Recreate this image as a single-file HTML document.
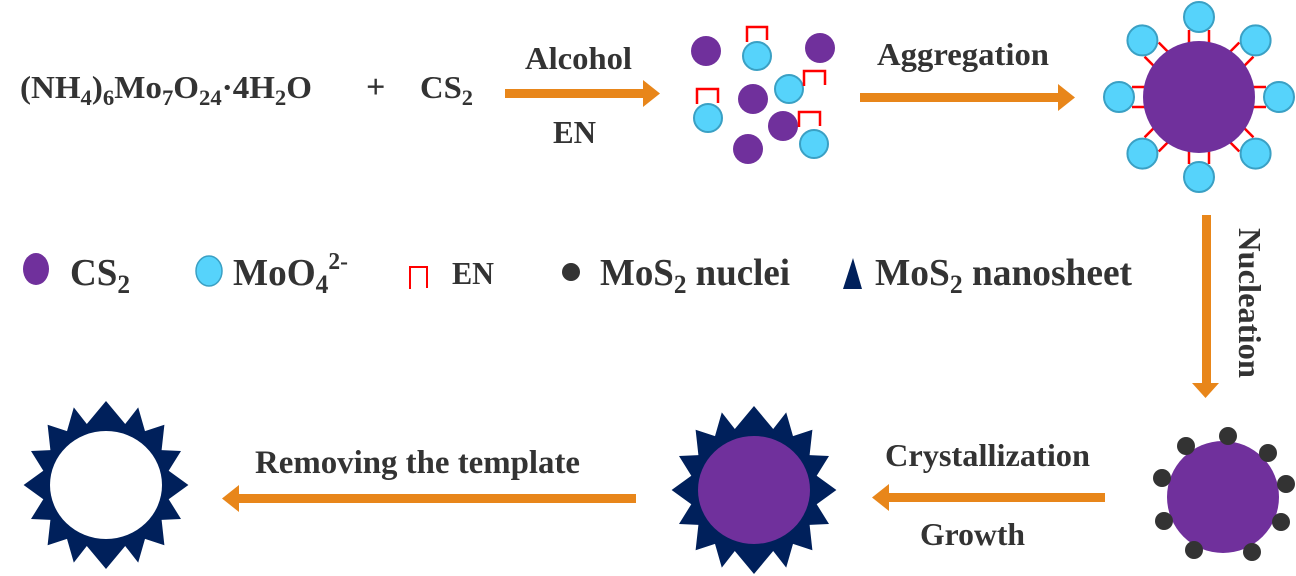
<!DOCTYPE html>
<html><head><meta charset="utf-8"><style>
html,body{margin:0;padding:0;background:#fff;}
svg{display:block;}
text{font-family:"Liberation Serif",serif;font-weight:bold;fill:#333;}
</style></head><body>
<svg width="1296" height="576" viewBox="0 0 1296 576" xmlns="http://www.w3.org/2000/svg">
<defs>
<g id="star">
<polygon fill="#00205B" points="0,-84 19.2,-61 32.2,-77.6 39,-53.9 58.4,-60.3 55.6,-34.9 75,-34 62.7,-14.2 82.4,0 62.7,14.2 75,34 55.6,34.9 58.4,60.3 39,53.9 32.2,77.6 19.2,61 0,84 -19.2,61 -32.2,77.6 -39,53.9 -58.4,60.3 -55.6,34.9 -75,34 -62.7,14.2 -82.4,0 -62.7,-14.2 -75,-34 -55.6,-34.9 -58.4,-60.3 -39,-53.9 -32.2,-77.6 -19.2,-61"/>
</g>
<g id="arm">
<polyline points="-10,-67 -10,-51 10,-51 10,-67" fill="none" stroke="#f00" stroke-width="2.5"/>
<circle cx="0" cy="-80" r="15" fill="#56D3FB" stroke="#3AA0C4" stroke-width="2"/>
</g>
</defs>

<text x="20" y="98" font-size="32" textLength="292" lengthAdjust="spacingAndGlyphs">(NH<tspan font-size="22" dy="7">4</tspan><tspan dy="-7">)</tspan><tspan font-size="22" dy="7">6</tspan><tspan dy="-7">Mo</tspan><tspan font-size="22" dy="7">7</tspan><tspan dy="-7">O</tspan><tspan font-size="22" dy="7">24</tspan><tspan dy="-7">·4H</tspan><tspan font-size="22" dy="7">2</tspan><tspan dy="-7">O</tspan></text>
<text x="366" y="98" font-size="34">+</text>
<text x="420" y="98" font-size="32" textLength="53" lengthAdjust="spacingAndGlyphs">CS<tspan font-size="22" dy="7">2</tspan></text>

<rect x="505" y="89" width="140" height="9" fill="#E8861A"/>
<polygon points="643,80 660,93.5 643,107" fill="#E8861A"/>
<text x="525" y="69" font-size="32" textLength="107" lengthAdjust="spacingAndGlyphs">Alcohol</text>
<text x="553" y="143" font-size="32" textLength="43" lengthAdjust="spacingAndGlyphs">EN</text>

<g fill="#70309C">
<circle cx="706" cy="51" r="15"/><circle cx="820" cy="48" r="15"/><circle cx="753" cy="99" r="15"/><circle cx="783" cy="126" r="15"/><circle cx="748" cy="149" r="15"/>
</g>
<g fill="#56D3FB" stroke="#3AA0C4" stroke-width="2">
<circle cx="757" cy="56" r="14"/><circle cx="789" cy="89" r="14"/><circle cx="708" cy="118" r="14"/><circle cx="814" cy="144" r="14"/>
</g>
<g fill="none" stroke="#f00" stroke-width="2.5">
<polyline points="747,42 747,27 767,27 767,40"/>
<polyline points="804,86 804,71 825,71 825,85"/>
<polyline points="697,104 697,89 718,89 718,103"/>
<polyline points="799,127 799,112 820,112 820,126"/>
</g>

<rect x="860" y="93" width="200" height="9" fill="#E8861A"/>
<polygon points="1058,84 1075,97.5 1058,111" fill="#E8861A"/>
<text x="877" y="65" font-size="32" textLength="172" lengthAdjust="spacingAndGlyphs">Aggregation</text>

<g transform="translate(1199,97)">
<use href="#arm" transform="rotate(0)"/>
<use href="#arm" transform="rotate(45)"/>
<use href="#arm" transform="rotate(90)"/>
<use href="#arm" transform="rotate(135)"/>
<use href="#arm" transform="rotate(180)"/>
<use href="#arm" transform="rotate(225)"/>
<use href="#arm" transform="rotate(270)"/>
<use href="#arm" transform="rotate(315)"/>
<circle cx="0" cy="0" r="56" fill="#70309C"/>
</g>

<rect x="1202" y="215" width="9" height="170" fill="#E8861A"/>
<polygon points="1192,383 1219,383 1205.5,398" fill="#E8861A"/>
<text transform="translate(1239,228) rotate(90)" font-size="32" textLength="150" lengthAdjust="spacingAndGlyphs">Nucleation</text>

<ellipse cx="36" cy="269" rx="13" ry="16" fill="#70309C"/>
<text x="70" y="285" font-size="38" textLength="60" lengthAdjust="spacingAndGlyphs">CS<tspan font-size="26" dy="8">2</tspan></text>
<ellipse cx="209" cy="271" rx="13" ry="15" fill="#56D3FB" stroke="#3AA0C4" stroke-width="1.5"/>
<text x="233" y="285" font-size="38" textLength="115" lengthAdjust="spacingAndGlyphs">MoO<tspan font-size="26" dy="8">4</tspan><tspan font-size="24" dy="-24">2-</tspan></text>
<polyline points="410,289 410,267 427,267 427,288" fill="none" stroke="#f00" stroke-width="2"/>
<text x="452" y="284" font-size="32" textLength="42" lengthAdjust="spacingAndGlyphs">EN</text>
<circle cx="571" cy="272" r="9" fill="#333"/>
<text x="600" y="285" font-size="38" textLength="190" lengthAdjust="spacingAndGlyphs">MoS<tspan font-size="26" dy="8">2</tspan><tspan dy="-8"> nuclei</tspan></text>
<polygon points="853,258 862,289 843,289" fill="#00205B"/>
<text x="875" y="285" font-size="38" textLength="257" lengthAdjust="spacingAndGlyphs">MoS<tspan font-size="26" dy="8">2</tspan><tspan dy="-8"> nanosheet</tspan></text>

<circle cx="1223" cy="497" r="56" fill="#70309C"/>
<g fill="#333">
<circle cx="1228" cy="436" r="9"/><circle cx="1186" cy="446" r="9"/><circle cx="1268" cy="453" r="9"/><circle cx="1162" cy="478" r="9"/><circle cx="1286" cy="484" r="9"/><circle cx="1164" cy="521" r="9"/><circle cx="1281" cy="522" r="9"/><circle cx="1194" cy="550" r="9"/><circle cx="1252" cy="552" r="9"/>
</g>

<rect x="887" y="493" width="218" height="9" fill="#E8861A"/>
<polygon points="889,484 872,497.5 889,511" fill="#E8861A"/>
<text x="885" y="466" font-size="32" textLength="205" lengthAdjust="spacingAndGlyphs">Crystallization</text>
<text x="920" y="545" font-size="32" textLength="105" lengthAdjust="spacingAndGlyphs">Growth</text>

<use href="#star" transform="translate(754,490)"/>
<ellipse cx="754" cy="490" rx="56" ry="54" fill="#70309C"/>

<rect x="237" y="494" width="399" height="9" fill="#E8861A"/>
<polygon points="239,485 222,498.5 239,512" fill="#E8861A"/>
<text x="255" y="473" font-size="33" textLength="325" lengthAdjust="spacingAndGlyphs">Removing the template</text>

<use href="#star" transform="translate(106,485)"/>
<ellipse cx="106" cy="485" rx="56" ry="54" fill="#fff"/>
</svg>
</body></html>
